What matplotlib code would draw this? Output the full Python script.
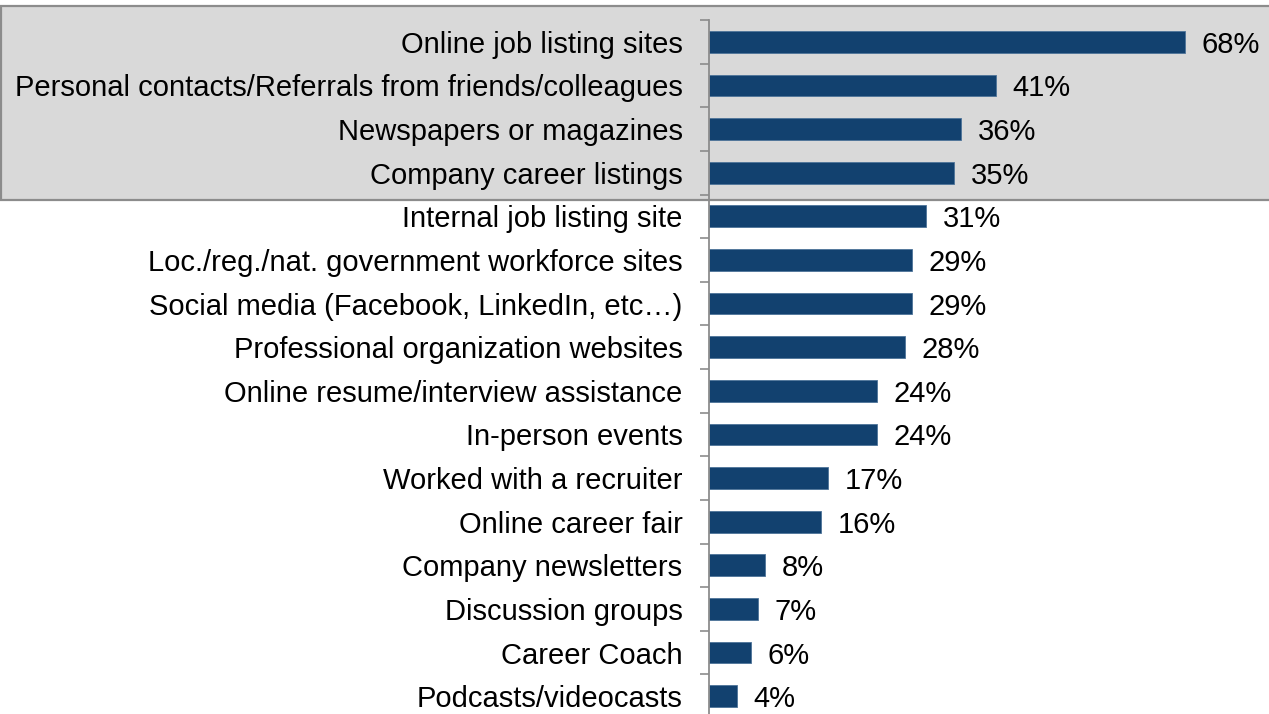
import matplotlib
matplotlib.use("Agg")
import matplotlib.pyplot as plt
from matplotlib.patches import Rectangle
import numpy as np

plt.rcParams['font.family'] = ['Liberation Sans', 'DejaVu Sans']

# data, top to bottom
categories = [
    "Online job listing sites",
    "Personal contacts/Referrals from friends/colleagues",
    "Newspapers or magazines",
    "Company career listings",
    "Internal job listing site",
    "Loc./reg./nat. government workforce sites",
    "Social media (Facebook, LinkedIn, etc\u2026)",
    "Professional organization websites",
    "Online resume/interview assistance",
    "In-person events",
    "Worked with a recruiter",
    "Online career fair",
    "Company newsletters",
    "Discussion groups",
    "Career Coach",
    "Podcasts/videocasts",
]
values = [68, 41, 36, 35, 31, 29, 29, 28, 24, 24, 17, 16, 8, 7, 6, 4]

W, H = 1269, 714
fig = plt.figure(figsize=(W / 100, H / 100), dpi=100)

# gray highlight box behind the top four rows
box = Rectangle((1 / W, 1 - 200 / H), 1.2, 194 / H, transform=fig.transFigure,
                facecolor="#d9d9d9", edgecolor="#8c8c8c", linewidth=1.6, zorder=-10)
fig.patches.append(box)

ax = fig.add_axes([709 / W, -4 / H, 560 / W, 698 / H])
ax.patch.set_visible(False)

n = len(categories)
y = np.arange(n)
ax.barh(y, values, height=0.5, color="#12416f", edgecolor="#4d7399", linewidth=0.6)
ax.set_ylim(n - 0.5, -0.5)
ax.set_xlim(0, 80)

ax.set_yticks(y)
ax.set_yticklabels(categories, fontsize=21)
ax.tick_params(axis="y", length=0, pad=19)
ax.set_yticks(np.arange(n + 1) - 0.5, minor=True)
ax.tick_params(axis="y", which="minor", length=6.5, width=1.2, color="#8c8c8c")
ax.set_xticks([])

for s in ["top", "right", "bottom"]:
    ax.spines[s].set_visible(False)
ax.spines["left"].set_color("#8c8c8c")
ax.spines["left"].set_linewidth(1.3)

for yi, v in zip(y, values):
    ax.annotate(f"{v}%", (v, yi), xytext=(12, 0), textcoords="offset points",
                va="center_baseline", ha="left", fontsize=21)

fig.savefig("out.png", dpi=100)
